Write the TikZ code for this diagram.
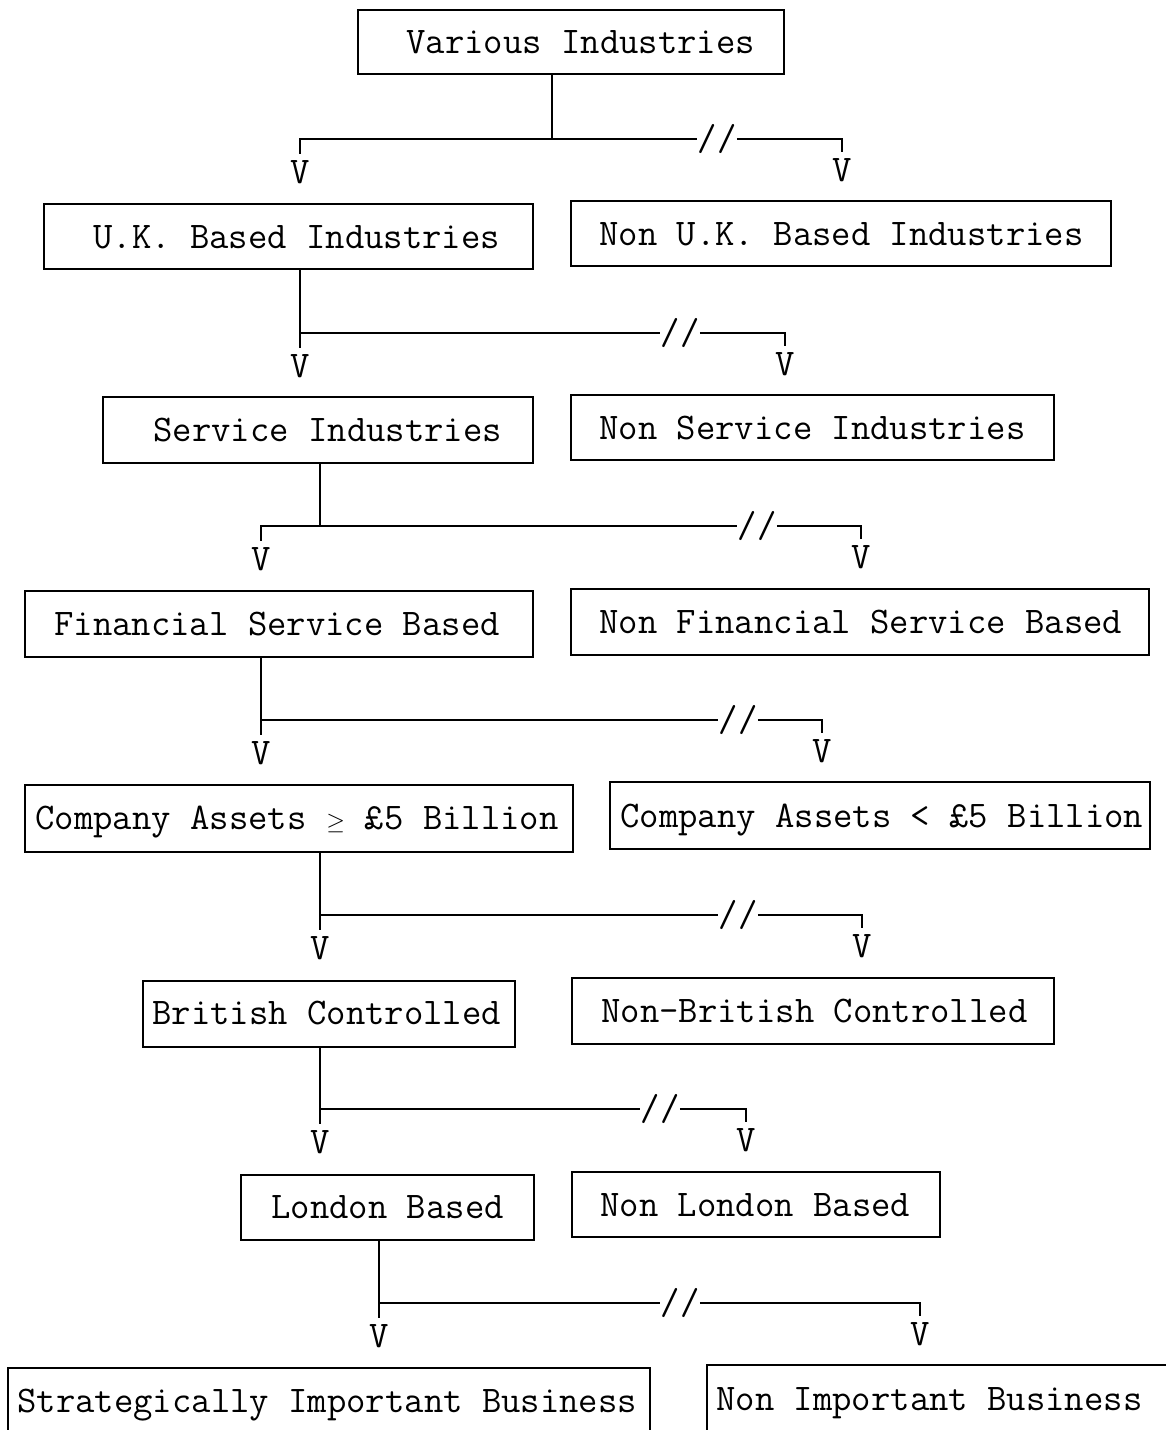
\documentclass[tikz,border=0pt]{standalone}
\usepackage{fontspec}
\usetikzlibrary{fit}
\newcommand{\chartfont}{\ttfamily\fontsize{18.8}{20}\selectfont}
% a small "greater or equal" sign filling one typewriter cell
\newcommand{\cellgeq}{\makebox[0.525em]{$\scriptstyle\geq$}}
\begin{document}
\begin{tikzpicture}[x=0.5pt,y=-0.5pt,
  box/.style={draw, line width=1pt, inner sep=0pt},
  lbl/.style={inner sep=0pt, anchor=base west, font=\chartfont},
  arr/.style={inner sep=3pt, font=\chartfont},
  brk/.style={inner sep=0pt, font=\chartfont},
  wire/.style={line width=1pt}]
\useasboundingbox (0,0) rectangle (1166,1430);
\clip (0,0) rectangle (1166,1430);

% boxes
\node[box, fit={(358,10) (784,74)}] (n1) {};
\node[box, fit={(44,204) (533,269)}] (n2) {};
\node[box, fit={(571,201) (1111,266)}] (n3) {};
\node[box, fit={(103,397) (533,463)}] (n4) {};
\node[box, fit={(571,395) (1054,460)}] (n5) {};
\node[box, fit={(25,591) (533,657)}] (n6) {};
\node[box, fit={(571,589) (1149,655)}] (n7) {};
\node[box, fit={(25,785) (573,852)}] (n8) {};
\node[box, fit={(610,782) (1150,849)}] (n9) {};
\node[box, fit={(143,981) (515,1047)}] (n10) {};
\node[box, fit={(572,978) (1054,1044)}] (n11) {};
\node[box, fit={(241,1175) (534,1240)}] (n12) {};
\node[box, fit={(572,1172) (940,1237)}] (n13) {};
\node[box, fit={(8,1368) (650,1470)}] (n14) {};
\node[box, fit={(707,1365) (1200,1470)}] (n15) {};

% labels
\node[lbl] (t1) at (406,53) {Various Industries};
\node[lbl] (t2) at (93,248) {U.K. Based Industries};
\node[lbl] (t3) at (599,245) {Non U.K. Based Industries};
\node[lbl] (t4) at (153,441) {Service Industries};
\node[lbl] (t5) at (599,439) {Non Service Industries};
\node[lbl] (t6) at (54,635) {Financial Service Based};
\node[lbl] (t7) at (599,633) {Non Financial Service Based};
\node[lbl] (t8) at (35,829) {Company Assets \cellgeq{} £5 Billion};
\node[lbl] (t9) at (620,827) {Company Assets < £5 Billion};
\node[lbl] (t10) at (152,1024) {British Controlled};
\node[lbl] (t11) at (601,1022) {Non-British Controlled};
\node[lbl] (t12) at (271,1218) {London Based};
\node[lbl] (t13) at (600,1216) {Non London Based};
\node[lbl] (t14) at (17,1412) {Strategically Important Business};
\node[lbl] (t15) at (716,1410) {Non Important Business};

% branch connectors: parent, junction, left V, break, right V
\foreach \p/\jx/\jy/\lx/\ly/\bx/\rx/\ry [count=\i] in {
  n1/552/139/300/172/717/842/170,
  n2/300/333/300/366/680/785/364,
  n4/320/526/261/559/757/861/557,
  n6/261/720/261/753/738/822/751,
  n8/320/915/320/948/738/862/946,
  n10/320/1109/320/1142/660/746/1140,
  n12/379/1303/379/1336/680/920/1334}{
  \coordinate (j\i) at (\jx,\jy);
  \node[arr] (va\i) at (\lx,\ly) {V};
  \node[arr] (vb\i) at (\rx,\ry) {V};
  \node[brk] (b\i) at (\bx,\jy) {//};
  \draw[wire] (j\i |- \p.south) -- (j\i) -| (va\i.north);
  \draw[wire] (j\i) -- (b\i.west);
  \draw[wire] (b\i.east) -| (vb\i.north);
}
\end{tikzpicture}
\end{document}
